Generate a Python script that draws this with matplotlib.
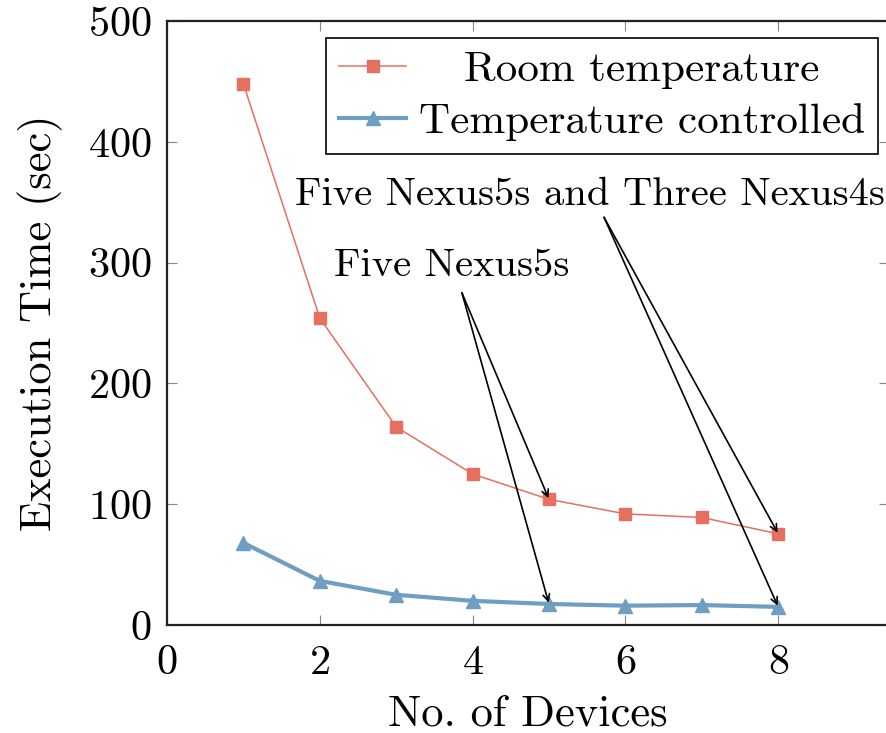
import matplotlib
matplotlib.use("Agg")
import matplotlib.pyplot as plt

# data
devices = [1, 2, 3, 4, 5, 6, 7, 8]
room_temp = [448, 254, 164, 125, 104, 92, 89, 75.5]
temp_controlled = [68, 36.5, 25, 20, 17.4, 16, 16.5, 15]
x_ticks = [0, 2, 4, 6, 8]
y_ticks = [0, 100, 200, 300, 400, 500]

RED = '#E5705F'
BLUE = '#6E9EC2'
FS = 30.5

plt.rcParams['font.family'] = ['cmr10', 'DejaVu Serif']
plt.rcParams['mathtext.fontset'] = 'cm'
plt.rcParams['axes.formatter.use_mathtext'] = True

fig = plt.figure(figsize=(8.87, 7.33), dpi=100)
ax = fig.add_axes([167 / 887, 108 / 733, 722 / 887, 604 / 733])

ax.plot(devices, room_temp, color=RED, linewidth=1.1, marker='s', markersize=8,
        label='Room temperature')
ax.plot(devices, temp_controlled, color=BLUE, linewidth=3, marker='^', markersize=10,
        label='Temperature controlled')

ax.set_xlim(0, 722 / 76.4)
ax.set_ylim(0, 500)
ax.set_xticks(x_ticks)
ax.set_yticks(y_ticks)
ax.tick_params(direction='in', length=7, width=0.8, color='#888888', labelsize=FS,
               top=True, right=True)
ax.tick_params(axis='x', pad=14)
ax.tick_params(axis='y', pad=11)
for s in ax.spines.values():
    s.set_linewidth(1.6)
    s.set_color('#222222')

ax.set_xlabel('No. of Devices', fontsize=FS + 1.5, labelpad=9)
ax.set_ylabel('Execution Time (sec)', fontsize=FS + 1.5, labelpad=18)

# annotations
ax.text(3.72, 297, 'Five Nexus5s', fontsize=FS * 0.96, ha='center', va='center')
ax.text(5.53, 356, 'Five Nexus5s and Three Nexus4s', fontsize=FS * 0.96,
        ha='center', va='center')
arrow = dict(arrowstyle='->', color='black', lw=1.2, shrinkA=0, shrinkB=1,
             mutation_scale=12)
for i, start in [(4, (3.86, 275)), (7, (5.72, 337.5))]:
    ax.annotate('', xy=(devices[i], room_temp[i]), xytext=start, arrowprops=arrow)
    ax.annotate('', xy=(devices[i], temp_controlled[i]), xytext=start, arrowprops=arrow)

leg = ax.legend(loc='upper right', bbox_to_anchor=(878 / 887, 695 / 733),
                bbox_transform=fig.transFigure, borderaxespad=0, fontsize=FS + 0.6,
                fancybox=False, framealpha=1, edgecolor='black', numpoints=1,
                handlelength=1.55, handletextpad=0.3, labelspacing=0.32,
                borderpad=0.3)
leg.get_frame().set_linewidth(1.2)

# centre the legend labels like pgfplots does
fig.canvas.draw()
r = fig.canvas.get_renderer()
texts = leg.get_texts()
widths = [t.get_window_extent(r).width for t in texts]
wmax = max(widths)
for t, w in zip(texts, widths):
    t.set_x((wmax - w) / 2)

fig.savefig('out.png', dpi=100)
